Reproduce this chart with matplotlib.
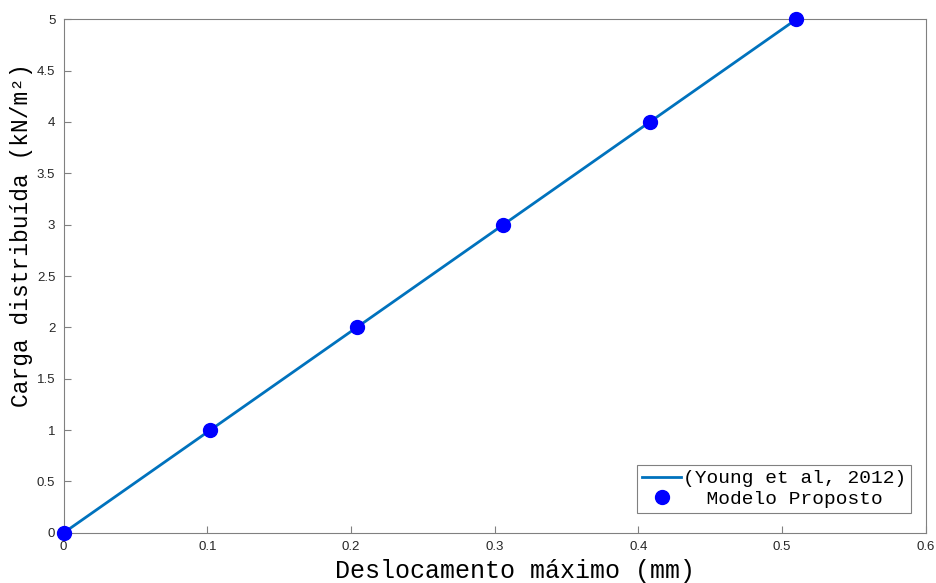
import matplotlib.pyplot as plt

# data
deslocamento = [0, 0.102, 0.204, 0.306, 0.408, 0.51]
carga = [0, 1, 2, 3, 4, 5]
xticks = [0, 0.1, 0.2, 0.3, 0.4, 0.5, 0.6]
yticks = [0, 0.5, 1, 1.5, 2, 2.5, 3, 3.5, 4, 4.5, 5]

fig = plt.figure(figsize=(9.36, 5.83), dpi=100)
ax = fig.add_axes([0.068, 0.086, 0.921, 0.881])

ax.plot(deslocamento, carga, color='#0072BD', lw=2, label='(Young et al, 2012)')
ax.plot(deslocamento, carga, 'o', color='#0000FF', ms=10, ls='none',
        label='  Modelo Proposto', clip_on=False, zorder=3)

ax.set_xlim(0, 0.6)
ax.set_ylim(0, 5)
ax.set_xticks(xticks)
ax.set_xticklabels(['0', '0.1', '0.2', '0.3', '0.4', '0.5', '0.6'])
ax.set_yticks(yticks)
ax.set_yticklabels(['0', '0.5', '1', '1.5', '2', '2.5', '3', '3.5', '4', '4.5', '5'])

for s in ax.spines.values():
    s.set_color('#808080')
    s.set_linewidth(0.8)
ax.tick_params(direction='in', length=5, width=0.8, color='#808080',
               labelsize=9.5, labelcolor='#262626', pad=6)
for lab in ax.get_xticklabels() + ax.get_yticklabels():
    lab.set_family('Liberation Sans')

ax.set_xlabel('Deslocamento máximo (mm)', family='Liberation Mono', fontsize=18,
              va='center')
ax.xaxis.set_label_coords(0.523, -0.075)
ax.set_ylabel('Carga distribuída (kN/m²)', family='Liberation Mono', fontsize=16.5,
              va='center')
ax.yaxis.set_label_coords(-0.049, 0.58)

leg = ax.legend(loc='lower right', prop={'family': 'Liberation Mono', 'size': 14},
                fancybox=False, edgecolor='#808080', framealpha=1,
                handlelength=2.0, handletextpad=0.1, borderpad=0.25,
                labelspacing=0.15, borderaxespad=0, bbox_to_anchor=(0.983, 0.039))
leg.get_frame().set_linewidth(0.8)

fig.savefig('out.png', dpi=100)
